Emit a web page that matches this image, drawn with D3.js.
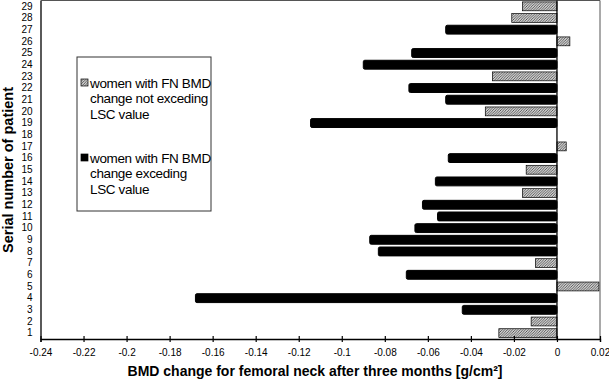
<!DOCTYPE html>
<html>
<head>
<meta charset="utf-8">
<script src="https://cdn.jsdelivr.net/npm/d3@7"></script>
<style>
  body { margin: 0; background: #fff; }
  svg { display: block; font-family: "Liberation Sans", Arial, sans-serif; }
  .narrow { font-family: "Liberation Sans Narrow", "Arial Narrow", "Liberation Sans", sans-serif; }
</style>
</head>
<body>
<svg id="chart" width="609" height="380"></svg>
<script>
// patient serial numbers, bottom to top
const patientIds = [1, 2, 3, 4, 5, 6, 7, 8, 9, 10, 11, 12, 13, 14, 15, 16, 17, 18, 19, 20, 21, 22, 23, 24, 25, 26, 27, 28, 29];
// FN BMD change after three months [g/cm2], null = no bar
const bmdChange = [-0.027, -0.012, -0.044, -0.168, 0.0195, -0.070, -0.010, -0.083, -0.087, -0.066,
                   -0.0555, -0.0625, -0.016, -0.0565, -0.0143, -0.0505, 0.0043, null, -0.1145, -0.0333,
                   -0.0517, -0.0688, -0.030, -0.090, -0.0675, 0.006, -0.0517, -0.021, -0.016];
// true = change exceeding LSC value
const exceedsLSC = [false, false, true, true, false, true, false, true, true, true,
                    true, true, false, true, false, true, false, false, true, false,
                    true, true, false, true, true, false, true, false, false];
const xTicks = [-0.24, -0.22, -0.2, -0.18, -0.16, -0.14, -0.12, -0.1, -0.08, -0.06, -0.04, -0.02, 0, 0.02];
const legendLabels = [
  ["women with FN BMD", "change not exceding", "LSC value"],
  ["women with FN BMD", "change exceding", "LSC value"]
];

const svg = d3.select("#chart");
const plot = {left: 40.5, right: 600, top: 0.5, bottom: 339};

const x = d3.scaleLinear().domain([-0.24, 0.02]).range([plot.left, plot.right]);
const y = d3.scaleBand().domain(patientIds).range([plot.bottom, plot.top]).paddingInner(0.24).paddingOuter(0.12);

const defs = svg.append("defs");
defs.append("pattern")
  .attr("id", "hatch")
  .attr("patternUnits", "userSpaceOnUse")
  .attr("width", 2.6).attr("height", 2.6)
  .append("path")
  .attr("d", "M-0.65,0.65 l1.3,-1.3 M0,2.6 l2.6,-2.6 M1.95,3.25 l1.3,-1.3")
  .attr("stroke", "#444").attr("stroke-width", 0.9);

// frame (top and right)
svg.append("path")
  .attr("d", `M${plot.left},${plot.top}H${plot.right}V${plot.bottom}`)
  .attr("fill", "none").attr("stroke", "#555").attr("stroke-width", 1);

const data = patientIds.map((id, i) => ({id: id, v: bmdChange[i], exceed: exceedsLSC[i]}))
  .filter(d => d.v !== null);

svg.append("g")
  .selectAll("rect")
  .data(data)
  .join("rect")
  .attr("x", d => x(Math.min(0, d.v)))
  .attr("width", d => Math.abs(x(d.v) - x(0)))
  .attr("y", d => y(d.id))
  .attr("height", y.bandwidth())
  .attr("fill", d => d.exceed ? "#000" : "url(#hatch)")
  .attr("stroke", "#000")
  .attr("stroke-width", d => d.exceed ? 1 : 0.7)
  .attr("rx", d => d.exceed ? 1.5 : 0);

// zero line
svg.append("line")
  .attr("x1", x(0)).attr("x2", x(0))
  .attr("y1", plot.top).attr("y2", plot.bottom)
  .attr("stroke", "#000").attr("stroke-width", 1.3);

// x axis
const xAxis = svg.append("g")
  .attr("transform", `translate(0,${plot.bottom})`)
  .call(d3.axisBottom(x).tickValues(xTicks).tickSizeOuter(0).tickSize(3).tickPadding(6.5)
    .tickFormat(d => String(+d.toFixed(2))));
xAxis.select(".domain").attr("stroke", "#000").attr("stroke-width", 1.3);
xAxis.selectAll(".tick line").attr("y1", -3).attr("y2", 3).attr("stroke", "#000").attr("stroke-width", 1.2);
xAxis.selectAll(".tick text").attr("class", "narrow").attr("font-size", 10).attr("fill", "#000");

// y axis
const yAxis = svg.append("g")
  .attr("transform", `translate(${plot.left},0)`)
  .call(d3.axisLeft(y).tickSize(0).tickPadding(8));
yAxis.select(".domain").attr("stroke", "#000").attr("stroke-width", 1.3);
yAxis.selectAll(".tick text").attr("class", "narrow").attr("font-size", 10).attr("fill", "#000");

// axis titles
svg.append("text")
  .attr("x", 315).attr("y", 376)
  .attr("text-anchor", "middle")
  .attr("font-size", 14).attr("font-weight", "bold")
  .text("BMD change for femoral neck after three months [g/cm²]");

svg.append("text")
  .attr("transform", "translate(13,170) rotate(-90)")
  .attr("text-anchor", "middle")
  .attr("font-size", 14.5).attr("font-weight", "bold")
  .text("Serial number of patient");

// legend
const legend = svg.append("g").attr("transform", "translate(77,57)");
legend.append("rect")
  .attr("width", 134).attr("height", 154)
  .attr("fill", "#fff").attr("stroke", "#333").attr("stroke-width", 1);

legendLabels.forEach((lines, k) => {
  const g = legend.append("g").attr("transform", `translate(0,${k === 0 ? 26 : 101})`);
  g.append("rect")
    .attr("x", 4).attr("y", -4).attr("width", 7).attr("height", 7)
    .attr("fill", k === 0 ? "url(#hatch)" : "#000")
    .attr("stroke", "#000").attr("stroke-width", 0.7);
  g.selectAll("text")
    .data(lines)
    .join("text")
    .attr("x", 13)
    .attr("y", (d, i) => i * 15.5)
    .attr("dy", "0.35em")
    .attr("font-size", 13.5)
    .attr("letter-spacing", -0.35)
    .text(d => d);
});
</script>
</body>
</html>
